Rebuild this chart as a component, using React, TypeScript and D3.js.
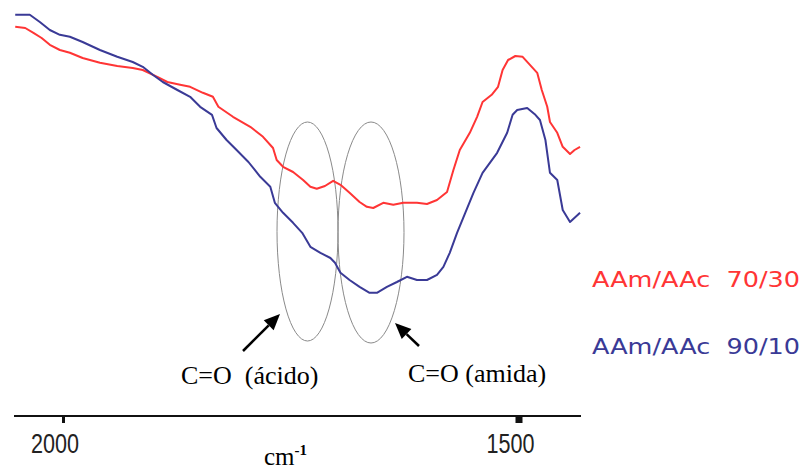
import React from "react";
import * as d3 from "d3";

// Wavenumbers (cm-1) and transmittance (a.u.)
const redWn = [2053,2042,2033,2024,2015,2004,1993,1979,1960,1941,1924,1913,1897,1886,1872,1861,1847,1836,1830,1814,1795,1781,1770,1766,1759,1748,1737,1729,1722,1713,1704,1696,1686,1675,1667,1660,1649,1638,1627,1612,1601,1590,1579,1572,1565,1554,1546,1540,1530,1523,1518,1512,1504,1496,1488,1480,1475,1469,1466,1458,1452,1444,1439,1433];
const redT = [97.3,97.0,95.8,94.5,92.8,91.5,90.8,89.5,88.3,87.5,87.0,86.5,84.8,83.5,82.8,82.3,80.8,79.8,77.3,74.8,72.3,69.8,67.0,64.0,62.3,61.0,59.0,57.3,56.8,57.5,58.8,57.8,55.8,53.5,52.3,52.0,53.3,52.8,53.3,53.3,53.0,54.0,56.0,61.5,66.5,70.8,74.8,78.5,80.3,82.3,86.5,89.0,90.0,89.8,87.8,85.8,81.5,77.3,73.5,70.8,67.3,65.5,66.5,67.3];

const blueWn = [2053,2037,2026,2015,2004,1993,1979,1960,1941,1924,1913,1902,1891,1875,1861,1850,1837,1832,1821,1810,1797,1784,1773,1768,1759,1748,1738,1729,1718,1707,1702,1696,1686,1675,1664,1656,1645,1634,1623,1612,1601,1590,1583,1576,1568,1559,1550,1540,1524,1513,1507,1502,1491,1482,1477,1471,1466,1458,1452,1444,1433];
const blueT = [100.3,100.3,98.5,96.5,95.3,94.8,93.5,91.5,89.8,88.5,87.3,85.3,83.5,81.5,79.8,77.3,75.3,72.0,69.0,66.5,63.5,59.8,57.3,53.3,50.8,48.3,45.8,42.3,40.8,39.5,38.3,35.8,34.0,32.3,30.8,30.8,32.3,33.5,34.8,34.0,34.0,35.3,37.3,40.8,45.8,50.8,55.8,60.8,65.8,70.8,75.3,76.5,77.0,75.3,74.0,69.0,60.8,59.0,51.5,48.5,50.8];

const tickValues = [2000, 1500];
const seriesNames = ["AAm/AAc  70/30", "AAm/AAc  90/10"];
const colors = ["#ff3535", "#3a3a96"];
const annotations = ["C=O  (ácido)", "C=O (amida)"];

function Arrow({ x1, y1, x2, y2 }: { x1: number; y1: number; x2: number; y2: number }) {
  const ang = Math.atan2(y2 - y1, x2 - x1);
  const L = 16, W = 7;
  const bx = x2 - L * Math.cos(ang), by = y2 - L * Math.sin(ang);
  const px = -Math.sin(ang) * W, py = Math.cos(ang) * W;
  return (
    <g>
      <line x1={x1} y1={y1} x2={bx} y2={by} stroke="#000" strokeWidth={2.5} />
      <polygon points={`${x2},${y2} ${bx + px},${by + py} ${bx - px},${by - py}`} fill="#000" />
    </g>
  );
}

export default function App() {
  const x = d3.scaleLinear().domain([2000, 1500]).range([63.5, 519]);
  const y = d3.scaleLinear().domain([0, 100]).range([416, 16]);
  const line = d3.line<[number, number]>().x(d => x(d[0])).y(d => y(d[1]));
  const red = line(redWn.map((w, i) => [w, redT[i]] as [number, number])) || "";
  const blue = line(blueWn.map((w, i) => [w, blueT[i]] as [number, number])) || "";
  const serif = "'Liberation Serif', 'Times New Roman', serif";
  return (
    <svg width={804} height={470} style={{ position: "absolute", left: 0, top: 0, background: "#fff" }}>
      <rect width={804} height={470} fill="#fff" />
      <ellipse cx={307.5} cy={231.5} rx={30.5} ry={109.5} fill="none" stroke="#8a8a8a" strokeWidth={1} />
      <ellipse cx={371} cy={232.5} rx={33} ry={110.5} fill="none" stroke="#8a8a8a" strokeWidth={1} />
      <path d={red} fill="none" stroke={colors[0]} strokeWidth={2} strokeLinejoin="round" />
      <path d={blue} fill="none" stroke={colors[1]} strokeWidth={2} strokeLinejoin="round" />
      {/* axis */}
      <line x1={14} x2={581} y1={416} y2={416} stroke="#111" strokeWidth={2} />
      {tickValues.map((t, i) => {
        const w = i === 0 ? 3 : 7;
        return <rect key={t} x={x(t) - w / 2} y={416} width={w} height={7} fill="#111" />;
      })}
      {tickValues.map(t => (
        <text key={"l" + t} x={x(t) - 8.5} y={453} textAnchor="middle" fontFamily="'Liberation Sans', Arial, sans-serif"
          fontSize={27} textLength={48} lengthAdjust="spacingAndGlyphs" fill="#222">{t}</text>
      ))}
      <text x={264} y={465} fontFamily={serif} fontSize={25} fill="#000">cm
        <tspan fontSize={15} fontWeight="bold" dy={-10}>-1</tspan>
      </text>
      {/* legend */}
      {seriesNames.map((s, i) => (
        <text key={s} x={592} y={i === 0 ? 287 : 354} fontFamily="'DejaVu Sans', sans-serif" fontSize={21}
          textLength={208} lengthAdjust="spacingAndGlyphs" fill={colors[i]} style={{ whiteSpace: "pre" }}>{s}</text>
      ))}
      {/* annotations */}
      <text x={181} y={384} fontFamily={serif} fontSize={26} fill="#000" style={{ whiteSpace: "pre" }}>{annotations[0]}</text>
      <text x={408} y={382} fontFamily={serif} fontSize={26} fill="#000" style={{ whiteSpace: "pre" }}>{annotations[1]}</text>
      <Arrow x1={243} y1={351} x2={280} y2={314} />
      <Arrow x1={419} y1={346} x2={395} y2={323} />
    </svg>
  );
}
